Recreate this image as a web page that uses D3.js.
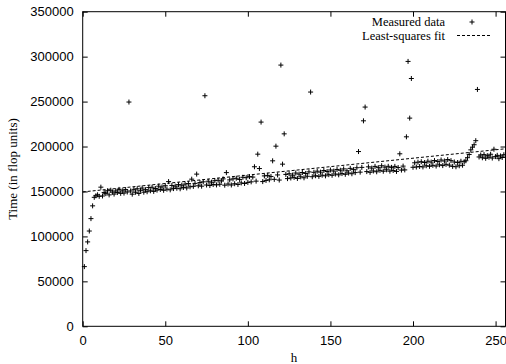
<!DOCTYPE html>
<html>
<head>
<meta charset="utf-8">
<script src="https://cdn.jsdelivr.net/npm/d3@7"></script>
<style>
  body { margin: 0; background: #fff; }
  svg { display: block; font-family: "Liberation Serif", "Times New Roman", serif; }
</style>
</head>
<body>
<div id="chart"></div>
<script>
// measured time for h = 1 .. 256
const timeValues = [
  66400, 84200, 93900, 106000, 119800, 134000, 143500, 145200, 146300, 144600,
  154800, 145000, 148900, 147600, 150800, 146200, 151400, 149300, 147100, 150600,
  148800, 152300, 147900, 150700, 148200, 152100, 149400, 249500, 150600, 147000,
  152400, 149100, 153000, 147800, 151300, 153800, 149200, 152000, 149700, 154300,
  150800, 154700, 150100, 153300, 151500, 155900, 152200, 155000, 151300, 156400,
  152600, 161000, 151800, 156700, 153200, 156000, 153600, 157600, 153000, 157000,
  154500, 158200, 153900, 158800, 155200, 163700, 155700, 159000, 169300, 156300,
  159900, 155900, 160700, 256500, 157200, 161400, 156600, 160300, 157700, 162000,
  157300, 162500, 158000, 161700, 164000, 157000, 171000, 158300, 162900, 157200,
  164000, 158600, 164700, 157800, 163400, 159500, 165800, 158900, 165300, 160100,
  166500, 160700, 166000, 177500, 161500, 191500, 175500, 227200, 161000, 167300,
  162300, 167900, 163000, 166700, 184100, 163500, 200400, 168400, 162700, 290600,
  180400, 214100, 169000, 164300, 169700, 165000, 168200, 165700, 170500, 164500,
  169300, 166300, 171100, 165200, 170000, 166900, 171800, 260600, 166400, 171300,
  167500, 172600, 166800, 171500, 168100, 173300, 167400, 172200, 168700, 173900,
  168000, 172700, 169400, 174500, 168500, 173600, 169900, 175100, 169100, 173000,
  170500, 175700, 169700, 174300, 171000, 176400, 194400, 171500, 176800, 228600,
  243900, 172100, 177400, 171300, 176000, 172800, 177900, 171900, 176500, 173500,
  178600, 172500, 177100, 174100, 178000, 172600, 176800, 173400, 177900, 172300,
  176600, 191900, 173800, 178200, 174000, 210800, 294700, 231600, 275700, 176900,
  181900, 177200, 182600, 177800, 183100, 177300, 182200, 178600, 183700, 178000,
  182700, 179100, 184400, 178300, 183300, 179700, 185000, 178800, 183900, 180200,
  185500, 179300, 184300, 177900, 182800, 177500, 182200, 178600, 183600, 179200,
  183100, 184200, 187600, 191200, 196300, 199300, 202000, 206500, 263500, 188400,
  190600, 187500, 191000, 186900, 189800, 188100, 191400, 187200, 197000, 188800,
  190200, 186500, 189500, 187800, 190900, 188000
];
const firstH = 1;

// least-squares line, end points
const fitH = [0, 256];
const fitTime = [149500, 197500];

const xTicks = [0, 50, 100, 150, 200, 250];
const yTicks = [0, 50000, 100000, 150000, 200000, 250000, 300000, 350000];
const legendLabels = ["Measured data", "Least-squares fit"];

const width = 506, height = 364;
const plotLeft = 82.7, plotRight = 505.5, plotTop = 11.7, plotBottom = 326.3;

const svg = d3.select("#chart").append("svg")
  .attr("width", width)
  .attr("height", height);

const x = d3.scaleLinear().domain([0, 256]).range([plotLeft, plotRight]);
const y = d3.scaleLinear().domain([0, 350000]).range([plotBottom, plotTop]);

// axes, ticks pointing inward, mirrored on top/right
function styleAxis(g) {
  g.select(".domain").remove();
  g.selectAll("line").attr("stroke", "#000");
  g.selectAll("text").attr("fill", "#000").style("font-size", "13px");
}

svg.append("g")
  .attr("transform", "translate(0," + plotBottom + ")")
  .call(d3.axisBottom(x).tickValues(xTicks).tickSizeInner(-5).tickSizeOuter(0).tickPadding(9))
  .call(styleAxis);

svg.append("g")
  .attr("transform", "translate(0," + plotTop + ")")
  .call(d3.axisTop(x).tickValues(xTicks).tickSizeInner(-5).tickSizeOuter(0).tickFormat(""))
  .call(styleAxis);

svg.append("g")
  .attr("transform", "translate(" + plotLeft + ",0)")
  .call(d3.axisLeft(y).tickValues(yTicks).tickSizeInner(-5).tickSizeOuter(0).tickPadding(9).tickFormat(d3.format("d")))
  .call(styleAxis);

svg.append("g")
  .attr("transform", "translate(" + plotRight + ",0)")
  .call(d3.axisRight(y).tickValues(yTicks).tickSizeInner(-5).tickSizeOuter(0).tickFormat(""))
  .call(styleAxis);

// frame
svg.append("rect")
  .attr("x", plotLeft).attr("y", plotTop)
  .attr("width", plotRight - plotLeft).attr("height", plotBottom - plotTop)
  .attr("fill", "none").attr("stroke", "#000").attr("stroke-width", 1);

// axis titles
svg.append("text")
  .attr("x", (plotLeft + plotRight) / 2).attr("y", 362)
  .attr("text-anchor", "middle").style("font-size", "13px")
  .text("h");

svg.append("text")
  .attr("transform", "translate(12," + (plotTop + plotBottom) / 2 + ") rotate(-90)")
  .attr("text-anchor", "middle").attr("dominant-baseline", "central")
  .style("font-size", "13px")
  .text("Time (in flop units)");

const plot = svg.append("g");

// fit line
plot.append("line")
  .attr("x1", x(fitH[0])).attr("y1", y(fitTime[0]))
  .attr("x2", x(fitH[1])).attr("y2", y(fitTime[1]))
  .attr("stroke", "#000").attr("stroke-width", 1)
  .attr("stroke-dasharray", "3,2");

// measured points as "+"
const cross = "M-2.5,0H2.5M0,-2.5V2.5";
plot.selectAll("path.pt")
  .data(timeValues)
  .enter()
  .append("path")
  .attr("class", "pt")
  .attr("transform", (d, i) => "translate(" + x(i + firstH) + "," + y(d) + ")")
  .attr("d", cross)
  .attr("stroke", "#000").attr("stroke-width", 1)
  .attr("fill", "none");

// legend
const legend = svg.append("g").style("font-size", "12.5px");
legend.append("text")
  .attr("x", 445).attr("y", 22)
  .attr("text-anchor", "end").attr("dominant-baseline", "central")
  .text(legendLabels[0]);
legend.append("path")
  .attr("transform", "translate(472,22)")
  .attr("d", cross)
  .attr("stroke", "#000").attr("fill", "none");
legend.append("text")
  .attr("x", 445).attr("y", 36)
  .attr("text-anchor", "end").attr("dominant-baseline", "central")
  .text(legendLabels[1]);
legend.append("line")
  .attr("x1", 457).attr("x2", 490)
  .attr("y1", 35.5).attr("y2", 35.5)
  .attr("stroke", "#000").attr("stroke-dasharray", "3,2");
</script>
</body>
</html>
